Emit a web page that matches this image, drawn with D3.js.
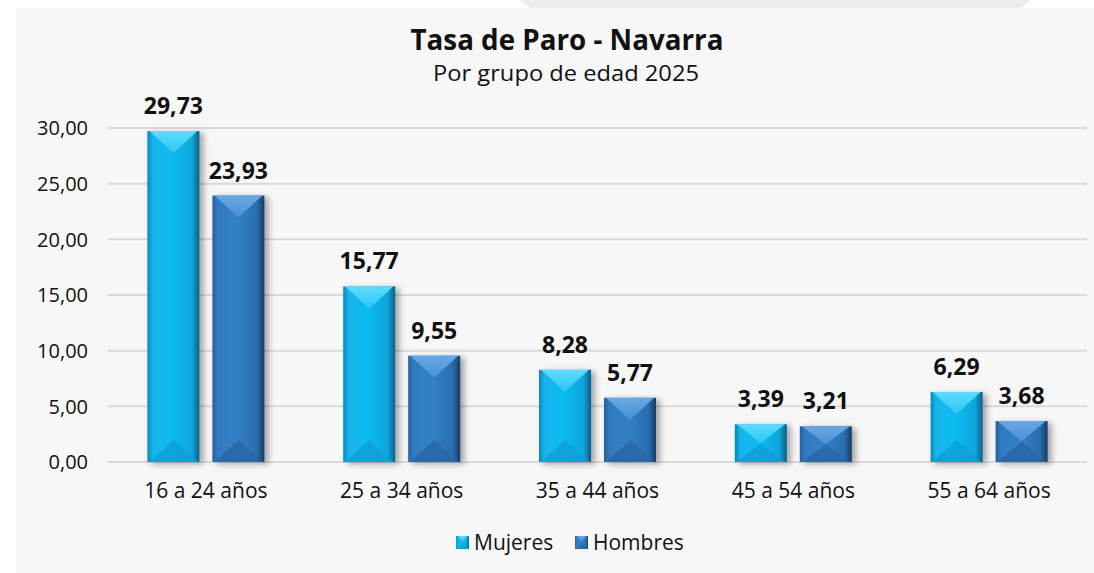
<!DOCTYPE html>
<html>
<head>
<meta charset="utf-8">
<script src="https://cdn.jsdelivr.net/npm/d3@7"></script>
<style>
  body { margin: 0; background: #ffffff; }
  svg { display: block; font-family: "Open Sans", "Noto Sans", sans-serif; }
</style>
</head>
<body>
<div id="chart"></div>
<script>
// chart data
const categories = ["16 a 24 años", "25 a 34 años", "35 a 44 años", "45 a 54 años", "55 a 64 años"];
const seriesNames = ["Mujeres", "Hombres"];
const mujeres = [29.73, 15.77, 8.28, 3.39, 6.29];
const hombres = [23.93, 9.55, 5.77, 3.21, 3.68];
const yTicks = [0, 5, 10, 15, 20, 25, 30];

const width = 1094;
const height = 573;
const margin = { top: 128, bottom: 111, left: 108, right: 7 };
const barWidth = 52;
const barGap = 13;

const fmt = v => v.toFixed(2).replace(".", ",");

const svg = d3.select("#chart").append("svg")
    .attr("width", width)
    .attr("height", height);

// background panel + little tab at the top
svg.append("rect")
    .attr("x", 16).attr("y", 8)
    .attr("width", width - 16).attr("height", height - 8)
    .attr("fill", "#f7f7f7");
svg.append("polygon")
    .attr("points", "520,0 1031,0 1021,8 530,8")
    .attr("fill", "#ececec");

const defs = svg.append("defs");

// gradients for the bevelled bars
const palettes = {
  Mujeres: { side: ["#0a86b8", "#13b4ec", "#10bcf3", "#0ba6dd", "#065f85"], top: ["#5fdcfc", "#2cc6f4"], bottom: "#0a9fd2" },
  Hombres: { side: ["#24609c", "#3079c0", "#3280c6", "#2b6fb0", "#173c62"], top: ["#6aa8e4", "#4a90d4"], bottom: "#2a66a4" }
};

seriesNames.forEach(function(name) {
  const p = palettes[name];
  const g = defs.append("linearGradient").attr("id", "side-" + name)
      .attr("x1", "0").attr("x2", "1").attr("y1", "0").attr("y2", "0");
  [0, 0.1, 0.45, 0.85, 1].forEach(function(o, i) {
    g.append("stop").attr("offset", o).attr("stop-color", p.side[i]);
  });
  const t = defs.append("linearGradient").attr("id", "top-" + name)
      .attr("x1", "0").attr("x2", "0").attr("y1", "0").attr("y2", "1");
  t.append("stop").attr("offset", 0).attr("stop-color", p.top[0]);
  t.append("stop").attr("offset", 1).attr("stop-color", p.top[1]);
});

const shadow = defs.append("filter").attr("id", "shadow")
    .attr("x", "-30%").attr("y", "-10%").attr("width", "160%").attr("height", "130%");
shadow.append("feDropShadow")
    .attr("dx", 4).attr("dy", 2).attr("stdDeviation", 3)
    .attr("flood-color", "#000").attr("flood-opacity", 0.35);

// scales
const x0 = d3.scaleBand()
    .domain(categories)
    .range([margin.left, width - margin.right])
    .padding(0);

const y = d3.scaleLinear()
    .domain([0, 30])
    .range([height - margin.bottom, margin.top]);

// grid lines
svg.append("g")
    .selectAll("line")
    .data(yTicks)
    .enter().append("line")
    .attr("x1", margin.left)
    .attr("x2", width - margin.right)
    .attr("y1", d => y(d))
    .attr("y2", d => y(d))
    .attr("stroke", "#d9d9d9")
    .attr("stroke-width", 2);

// y axis labels
svg.append("g")
    .selectAll("text")
    .data(yTicks)
    .enter().append("text")
    .attr("x", 88)
    .attr("y", d => y(d))
    .attr("dy", "0.36em")
    .attr("text-anchor", "end")
    .attr("font-size", 20)
    .attr("fill", "#111")
    .text(d => fmt(d));

// x axis labels
svg.append("g")
    .selectAll("text")
    .data(categories)
    .enter().append("text")
    .attr("x", d => x0(d) + x0.bandwidth() / 2)
    .attr("y", 498)
    .attr("text-anchor", "middle")
    .attr("font-size", 21)
    .attr("fill", "#111")
    .text(d => d);

// bars
const rows = [];
categories.forEach(function(c, i) {
  rows.push({ cat: c, key: "Mujeres", value: mujeres[i], off: -barWidth - barGap / 2 });
  rows.push({ cat: c, key: "Hombres", value: hombres[i], off: barGap / 2 });
});

function drawBevel(g, bx, by, w, h, key, depth) {
  const d = Math.min(depth, h / 2);
  g.append("rect")
      .attr("x", bx).attr("y", by).attr("width", w).attr("height", h)
      .attr("fill", "url(#side-" + key + ")");
  g.append("polygon")
      .attr("points", [[bx + 2, by], [bx + w - 2, by], [bx + w / 2, by + d]].join(" "))
      .attr("fill", "url(#top-" + key + ")");
  g.append("polygon")
      .attr("points", [[bx + 2, by + h], [bx + w - 2, by + h], [bx + w / 2, by + h - d]].join(" "))
      .attr("fill", palettes[key].bottom)
      .attr("opacity", 0.8);
}

const bars = svg.append("g");
rows.forEach(function(r) {
  const bx = x0(r.cat) + x0.bandwidth() / 2 + r.off;
  const by = y(r.value);
  const h = y(0) - by;
  const g = bars.append("g").attr("filter", "url(#shadow)");
  drawBevel(g, bx, by, barWidth, h, r.key, 22);
});

// value labels
svg.append("g")
    .selectAll("text")
    .data(rows)
    .enter().append("text")
    .attr("x", d => x0(d.cat) + x0.bandwidth() / 2 + d.off + barWidth / 2)
    .attr("y", d => y(d.value) - 17)
    .attr("text-anchor", "middle")
    .attr("font-size", 23)
    .attr("font-weight", "bold")
    .attr("fill", "#111")
    .text(d => fmt(d.value));

// title
svg.append("text")
    .attr("x", 567).attr("y", 50)
    .attr("text-anchor", "middle")
    .attr("font-size", 29)
    .attr("font-weight", "bold")
    .attr("fill", "#111")
    .attr("textLength", 313)
    .attr("lengthAdjust", "spacingAndGlyphs")
    .text("Tasa de Paro - Navarra");

svg.append("text")
    .attr("x", 566).attr("y", 81)
    .attr("text-anchor", "middle")
    .attr("font-size", 22)
    .attr("fill", "#111")
    .attr("textLength", 266)
    .attr("lengthAdjust", "spacingAndGlyphs")
    .text("Por grupo de edad 2025");

// legend
const legendX = [456, 575];
const legend = svg.selectAll(".legend")
    .data(seriesNames)
    .enter().append("g")
    .attr("class", "legend");

legend.each(function(d, i) {
  drawBevel(d3.select(this), legendX[i], 536, 13, 13, d, 6);
});

legend.append("text")
    .attr("x", (d, i) => legendX[i] + 18)
    .attr("y", 550)
    .attr("font-size", 21)
    .attr("fill", "#111")
    .text(d => d);
</script>
</body>
</html>
